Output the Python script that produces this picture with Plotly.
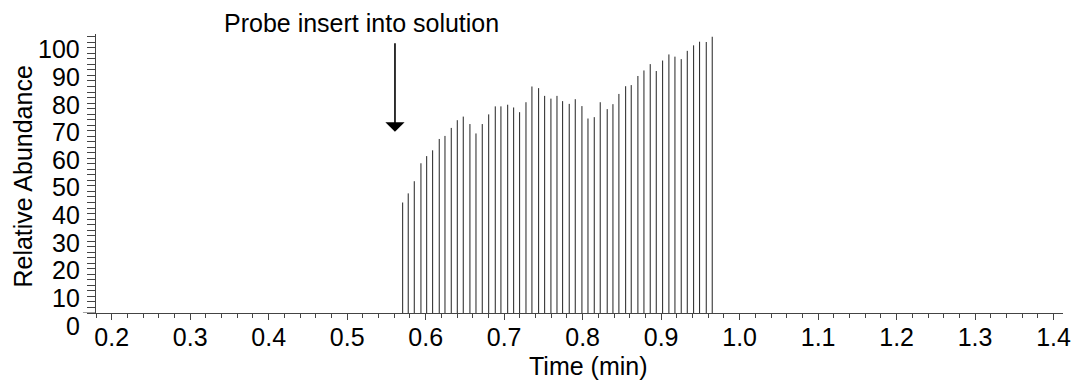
import plotly.graph_objects as go

# ---- data ----
scan_times = [0.5707, 0.5778, 0.5855, 0.5940, 0.6013, 0.6089, 0.6173, 0.6246, 0.6326, 0.6403,
              0.6479, 0.6564, 0.6641, 0.6721, 0.6803, 0.6887, 0.6959, 0.7045, 0.7121, 0.7197,
              0.7278, 0.7354, 0.7439, 0.7516, 0.7596, 0.7673, 0.7745, 0.7829, 0.7906, 0.7991,
              0.8068, 0.8148, 0.8224, 0.8313, 0.8386, 0.8462, 0.8548, 0.8619, 0.8704, 0.8781,
              0.8861, 0.8938, 0.9019, 0.9099, 0.9176, 0.9256, 0.9333, 0.9414, 0.9490, 0.9575,
              0.9651]
rel_abundance = [40.0, 43.3, 47.7, 54.2, 56.8, 58.9, 63.0, 64.1, 67.0, 69.8,
                 71.1, 68.4, 65.0, 68.4, 71.9, 74.8, 74.8, 75.4, 74.4, 72.7,
                 76.3, 82.0, 81.4, 78.6, 77.6, 78.6, 76.7, 75.7, 77.4, 74.9,
                 70.4, 70.9, 76.3, 73.8, 75.6, 79.3, 82.1, 82.5, 85.8, 87.8,
                 90.1, 87.6, 91.4, 93.6, 92.8, 91.9, 94.9, 96.9, 98.2, 98.1,
                 100.0]
y_tick_values = [0, 10, 20, 30, 40, 50, 60, 70, 80, 90, 100]
x_tick_values = [0.2, 0.3, 0.4, 0.5, 0.6, 0.7, 0.8, 0.9, 1.0, 1.1, 1.2, 1.3, 1.4]
annotation_text = "Probe insert into solution"
probe_time = 0.5609
arrow_top = 98.2
arrow_tip = 65.6

FONT = "Arial, Liberation Sans, sans-serif"
FS = 25
AX = "#444444"

# stick lines
xs, ys = [], []
for t, v in zip(scan_times, rel_abundance):
    xs += [t, t, None]
    ys += [0, v, None]

fig = go.Figure()
fig.add_trace(go.Scatter(x=xs, y=ys, mode="lines",
                         line=dict(color="#222222", width=1), hoverinfo="skip",
                         showlegend=False))

fig.update_layout(
    width=1075, height=383,
    margin=dict(l=96, r=12, t=34, b=70, autoexpand=False),
    paper_bgcolor="white", plot_bgcolor="white",
    font=dict(family=FONT, size=FS, color="black"),
    showlegend=False,
)

fig.update_xaxes(
    range=[0.18, 1.412], showgrid=False, zeroline=False, automargin=False,
    showline=True, linecolor=AX, linewidth=1,
    tickmode="array", tickvals=x_tick_values,
    ticktext=[f"{v:.1f}" for v in x_tick_values],
    ticks="outside", ticklen=6, tickcolor=AX, tickwidth=1,
    minor=dict(dtick=0.02, tick0=0.18, ticks="outside", ticklen=4,
               tickcolor=AX, tickwidth=1, showgrid=False),
    tickfont=dict(size=FS, family=FONT, color="black"),
    ticklabelstandoff=-4,
)
fig.update_yaxes(
    range=[0, 101], showgrid=False, zeroline=False, automargin=False,
    showline=True, linecolor=AX, linewidth=1,
    dtick=2, tick0=0, ticks="outside", ticklen=8, tickcolor=AX,
    tickwidth=1, showticklabels=False,
)

# y tick labels (drawn slightly below their ticks as in the reference)
for v in y_tick_values:
    fig.add_annotation(x=0, xref="paper", y=v, yref="y", text=str(v),
                       showarrow=False, xanchor="right", yanchor="middle",
                       xshift=-14, yshift=-12.5,
                       font=dict(size=FS, family=FONT, color="black"))

# baseline tick extending left at zero
fig.add_shape(type="line", xref="paper", yref="y", x0=-0.0135, x1=0, y0=0, y1=0,
              line=dict(color=AX, width=1))

# axis titles
fig.add_annotation(x=0.509, xref="paper", y=-0.189, yref="paper", text="Time (min)",
                   showarrow=False, xanchor="center", yanchor="middle",
                   font=dict(size=FS, family=FONT, color="black"))
fig.add_annotation(x=-0.0752, xref="paper", y=0.49, yref="paper", text="Relative Abundance",
                   showarrow=False, xanchor="center", yanchor="middle", textangle=-90,
                   font=dict(size=FS, family=FONT, color="black"))

# probe annotation
fig.add_annotation(x=0.275, xref="paper", y=1.0395, yref="paper", text=annotation_text,
                   showarrow=False, xanchor="center", yanchor="middle",
                   font=dict(size=FS, family=FONT, color="black"))
fig.add_annotation(x=probe_time, y=arrow_tip, xref="x", yref="y",
                   ax=probe_time, ay=arrow_top, axref="x", ayref="y",
                   text="", showarrow=True, arrowhead=1, arrowsize=2,
                   arrowwidth=1.6, arrowcolor="black", standoff=0)

fig.write_html("out.html", config={"displayModeBar": False},
               post_script="document.body.style.margin='0';document.body.style.overflow='hidden';")
